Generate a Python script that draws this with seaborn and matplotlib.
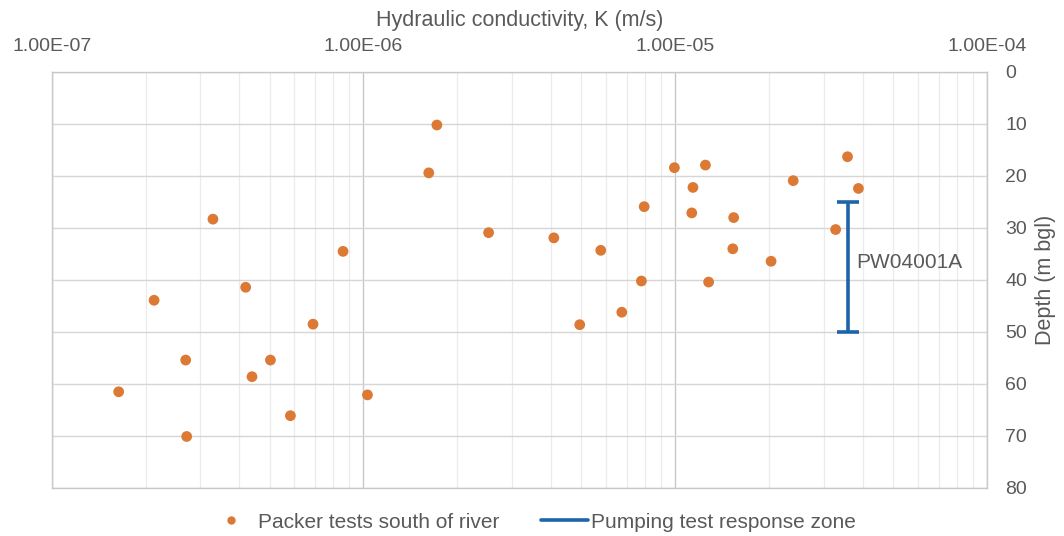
import matplotlib
matplotlib.use("Agg")
import matplotlib.pyplot as plt
import matplotlib.ticker as mticker
from matplotlib.lines import Line2D
import seaborn as sns
import pandas as pd

# ---- data ----
conductivity = [1.72e-6, 1.62e-6, 3.29e-7, 2.52e-6, 8.6e-7, 4.19e-7, 2.13e-7,
                6.89e-7, 2.69e-7, 5.03e-7, 4.39e-7, 1.64e-7, 1.03e-6, 5.83e-7,
                2.71e-7,
                9.94e-6, 1.25e-5, 1.14e-5, 7.95e-6, 1.13e-5, 1.54e-5, 4.08e-6,
                5.77e-6, 1.53e-5, 7.79e-6, 1.28e-5, 6.74e-6, 4.94e-6,
                2.39e-5, 3.57e-5, 3.87e-5, 3.27e-5, 2.03e-5]
depth = [10.2, 19.4, 28.3, 30.9, 34.5, 41.4, 43.9,
         48.5, 55.4, 55.4, 58.6, 61.5, 62.1, 66.1,
         70.1,
         18.4, 17.9, 22.2, 25.9, 27.1, 28.0, 31.9,
         34.3, 34.0, 40.2, 40.4, 46.2, 48.6,
         20.9, 16.3, 22.4, 30.3, 36.4]

zone_k = 3.59e-5
zone_top = 25
zone_bottom = 50
zone_label = "PW04001A"
zone_label_depth = 36.7

x_ticks = [1e-7, 1e-6, 1e-5, 1e-4]
x_tick_labels = ["1.00E-07", "1.00E-06", "1.00E-05", "1.00E-04"]
y_ticks = [0, 10, 20, 30, 40, 50, 60, 70, 80]

series_points = "Packer tests south of river"
series_zone = "Pumping test response zone"

ORANGE = "#DB7935"
BLUE = "#1D64AA"
TXT = "#595959"

sns.set_theme(style="white")
plt.rcParams["font.family"] = ["Liberation Sans", "DejaVu Sans"]

fig = plt.figure(figsize=(10.64, 5.36), dpi=100)
ax = fig.add_axes([0.0486, 0.0896, 0.8790, 0.7761])

df = pd.DataFrame({"K": conductivity, "depth": depth})
sns.scatterplot(data=df, x="K", y="depth", ax=ax, color=ORANGE, s=60,
                edgecolor="none", zorder=3, legend=False)

half = (zone_bottom - zone_top) / 2
ax.errorbar([zone_k], [zone_top + half], yerr=[[half], [half]],
            fmt="none", ecolor=BLUE, elinewidth=2.6, capsize=8, capthick=2.6,
            zorder=4)
ax.annotate(zone_label, xy=(zone_k, zone_label_depth), xytext=(6, 0),
            textcoords="offset points", color=TXT, fontsize=15,
            ha="left", va="center")

ax.set_xscale("log")
ax.set_xlim(1e-7, 1e-4)
ax.set_ylim(80, 0)

ax.xaxis.set_ticks_position("top")
ax.xaxis.set_label_position("top")
ax.set_xticks(x_ticks)
ax.set_xticklabels(x_tick_labels)
ax.xaxis.set_minor_locator(mticker.LogLocator(base=10, subs=range(2, 10)))
ax.xaxis.set_minor_formatter(mticker.NullFormatter())

ax.yaxis.set_ticks_position("right")
ax.yaxis.set_label_position("right")
ax.set_yticks(y_ticks)

ax.tick_params(axis="both", which="both", length=0, colors=TXT, labelsize=14)
ax.tick_params(axis="x", pad=12)
ax.tick_params(axis="y", pad=13)

ax.set_xlabel("Hydraulic conductivity, K (m/s)", color=TXT, fontsize=15.5,
              labelpad=9)
ax.set_ylabel("Depth (m bgl)", color=TXT, fontsize=15.5, labelpad=6)

ax.grid(False)
ax.grid(axis="y", which="major", color="#D6D6D6", linewidth=1.0, zorder=0)
ax.grid(axis="x", which="major", color="#C8C8C8", linewidth=1.0, zorder=0)
ax.grid(axis="x", which="minor", color="#EBEBEB", linewidth=0.9, zorder=0)
ax.set_axisbelow(True)

for sp in ax.spines.values():
    sp.set_color("#C8C8C8")
    sp.set_linewidth(1.0)

handles = [
    Line2D([], [], linestyle="none", marker="o", markersize=6,
           markerfacecolor=ORANGE, markeredgecolor="none"),
    Line2D([], [], color=BLUE, linewidth=2.6),
]
fig.legend(handles, [series_points, series_zone], loc="center",
           bbox_to_anchor=(0.5, 0.026), ncol=2, frameon=False,
           fontsize=15, labelcolor=TXT, handlelength=2.25, handletextpad=0.15,
           columnspacing=2.0, borderpad=0.2)

fig.savefig("out.png", dpi=100)
